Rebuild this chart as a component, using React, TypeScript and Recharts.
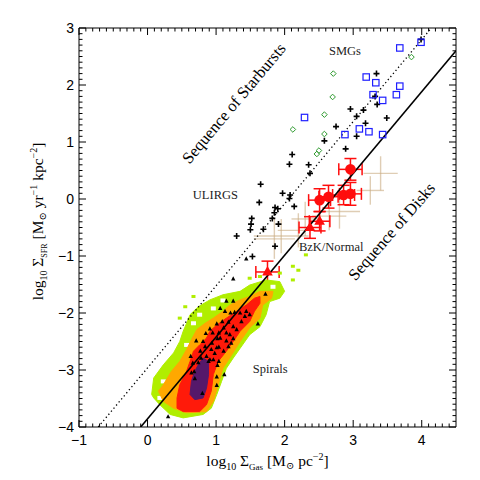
import React from 'react';
import { ComposedChart, Scatter, XAxis, YAxis, ErrorBar, ReferenceLine } from 'recharts';

const W = 480;
const H = 480;
const MARGIN = { top: 28, right: 24, left: 0, bottom: 0 };
const Y_AXIS_W = 79;
const X_AXIS_H = 53;
const PLOT_W = W - Y_AXIS_W - MARGIN.right;
const PLOT_H = H - MARGIN.top - X_AXIS_H;

const SERIF = '"Liberation Serif", "DejaVu Serif", serif';
const SANS = '"Liberation Sans", Arial, sans-serif';

// axes
const xMajor = [-1, 0, 1, 2, 3, 4];
const yMajor = [-4, -3, -2, -1, 0, 1, 2, 3];
const xTicks: number[] = [];
for (let i = -10; i <= 44; i++) xTicks.push(i / 10);
const yTicks: number[] = [];
for (let i = -40; i <= 30; i++) yTicks.push(i / 10);

// fitted sequences (log Σgas, log Σsfr)
const diskSeq = [[-0.1, -4], [4.5, 2.6]];
const starburstSeq = [[-0.72, -4], [4.14, 3]];

// spiral density map levels (outline polygons)
const greenZone = [
  [0.06, -3.43], [0.09, -3.14], [0.23, -2.91], [0.38, -2.7], [0.47, -2.5], [0.52, -2.32], [0.57, -2.18],
  [0.62, -2.03], [0.74, -1.89], [0.91, -1.77], [1.1, -1.68], [1.35, -1.62], [1.49, -1.51], [1.73, -1.42],
  [1.93, -1.45], [2.0, -1.62], [1.93, -1.74], [1.78, -1.8], [1.73, -2.03], [1.64, -2.24], [1.49, -2.38],
  [1.35, -2.62], [1.25, -2.79], [1.15, -2.97], [1.08, -3.2], [1.01, -3.43], [0.93, -3.67], [0.81, -3.78],
  [0.52, -3.84], [0.33, -3.78], [0.18, -3.61], [0.09, -3.49],
];
const greenSpecks = [
  [2.31, -0.98], [2.12, -1.18], [1.64, -1.36], [1.93, -1.3], [2.12, -1.42], [2.2, -1.25],
  [0.55, -1.89], [0.47, -2.09], [0.67, -1.71], [1.49, -1.39],
];
const greenHoles = [
  [0.23, -3.2], [0.38, -3.08], [0.57, -2.56], [0.76, -2.03], [0.96, -1.92], [0.67, -2.18], [1.44, -1.8],
  [1.83, -1.54], [0.18, -3.49], [1.1, -1.78],
];
const orangeZone = [
  [0.16, -3.37], [0.23, -3.26], [0.35, -3.02], [0.47, -2.85], [0.57, -2.64], [0.64, -2.47], [0.72, -2.29],
  [0.84, -2.18], [0.96, -2.09], [1.1, -1.97], [1.2, -1.86], [1.35, -1.77], [1.49, -1.71], [1.64, -1.62],
  [1.83, -1.62], [1.81, -1.74], [1.68, -1.86], [1.64, -2.09], [1.49, -2.26], [1.35, -2.5], [1.23, -2.73],
  [1.1, -2.97], [1.03, -3.26], [0.96, -3.55], [0.86, -3.73], [0.57, -3.75], [0.38, -3.67], [0.23, -3.55],
];
const redZone = [
  [0.43, -3.67], [0.43, -3.49], [0.47, -3.26], [0.57, -3.02], [0.62, -2.85], [0.67, -2.67], [0.76, -2.56],
  [0.86, -2.44], [0.91, -2.32], [1.01, -2.21], [1.15, -2.09], [1.3, -1.97], [1.44, -1.86], [1.56, -1.74],
  [1.64, -1.71], [1.64, -1.83], [1.56, -1.97], [1.49, -2.15], [1.35, -2.32], [1.25, -2.5], [1.15, -2.67],
  [1.03, -2.85], [0.96, -3.08], [0.93, -3.37], [0.86, -3.61], [0.76, -3.73], [0.52, -3.73],
];
const purpleZone = [
  [0.62, -3.43], [0.64, -3.2], [0.69, -3.02], [0.74, -2.91], [0.81, -2.79], [0.89, -2.85], [0.89, -3.08],
  [0.86, -3.32], [0.81, -3.49], [0.69, -3.52],
];

// individual galaxies
const spirals = [
  [1.25, -1.4], [1.72, -1.67], [1.44, -1.05], [1.15, -1.79], [1.25, -1.79], [1.06, -1.92], [1.13, -1.97],
  [1.21, -2.0], [1.27, -1.99], [1.35, -2.0], [1.44, -1.97], [1.49, -2.03], [1.42, -2.06], [1.09, -2.15],
  [1.18, -2.16], [1.37, -2.15], [1.61, -2.19], [1.01, -2.19], [1.11, -2.26], [1.25, -2.24], [1.3, -2.29],
  [0.91, -2.28], [1.04, -2.35], [0.85, -2.36], [0.95, -2.35], [1.15, -2.35], [1.2, -2.38], [1.25, -2.45],
  [1.02, -2.45], [1.06, -2.44], [1.15, -2.49], [0.81, -2.5], [0.71, -2.49], [0.94, -2.53], [1.22, -2.53],
  [1.18, -2.59], [0.84, -2.59], [1.04, -2.6], [1.01, -2.61], [0.93, -2.64], [0.77, -2.67], [1.11, -2.67],
  [0.98, -2.71], [0.86, -2.76], [0.63, -2.76], [0.78, -2.79], [0.91, -2.82], [0.96, -2.82], [0.89, -2.85],
  [1.04, -2.85], [0.74, -2.87], [0.66, -2.88], [1.02, -2.92], [0.68, -3.03], [0.64, -3.05], [1.12, -3.08],
  [1.01, -3.12], [0.69, -3.15], [1.01, -3.27], [0.8, -3.41], [0.3, -3.82],
];
const ulirgs = [
  [3.99, 2.8], [3.34, 2.2], [3.32, 1.8], [3.35, 1.66], [2.96, 1.58], [3.15, 1.56], [3.05, 1.45], [3.49, 1.42],
  [3.18, 1.33], [2.75, 1.27], [3.05, 1.1], [2.58, 1.02], [2.89, 0.88], [2.11, 0.78], [2.07, 0.61], [2.35, 0.6],
  [2.37, 0.45], [1.65, 0.26], [1.97, 0.1], [2.08, 0.07], [2.07, 0.01], [1.63, -0.06], [2.14, -0.13],
  [1.86, -0.15], [1.9, -0.17], [1.85, -0.24], [1.52, -0.34], [1.82, -0.34], [1.91, -0.44], [1.51, -0.44],
  [1.5, -0.54], [1.69, -0.53], [1.3, -0.65], [1.86, -0.83], [1.53, -1.01],
];
const smgs = [
  [3.68, 2.65], [3.99, 2.75], [3.19, 2.14], [3.33, 2.04], [3.68, 1.98], [3.29, 1.83], [3.43, 1.73],
  [3.63, 1.83], [2.29, 1.43], [3.09, 1.23], [3.23, 1.18], [2.88, 1.13], [3.43, 1.13],
];
const smgsDiamond = [
  [3.85, 2.49], [2.71, 2.2], [2.7, 1.79], [2.58, 1.48], [2.12, 1.22], [2.58, 1.14], [2.47, 0.79], [2.5, 0.85],
];
// BzK galaxies: x, y, xerr, yerr
const bzkCircles = [
  [2.96, 0.52, 0.17, 0.19], [2.51, -0.02, 0.16, 0.2], [2.64, 0.04, 0.14, 0.2], [2.86, 0.07, 0.16, 0.17],
  [2.96, 0.09, 0.16, 0.2],
];
const bzkTriangles = [
  [2.37, -0.5, 0.16, 0.19], [2.51, -0.39, 0.15, 0.17], [1.75, -1.28, 0.17, 0.19],
];
const normalErr = [
  [3.4, 0.45, 0.25, 0.3], [3.25, 0.15, 0.2, 0.25], [2.8, -0.22, 0.3, 0.3], [2.65, -0.3, 0.25, 0.25],
  [2.2, -0.55, 0.3, 0.3], [1.95, -0.65, 0.4, 0.3], [1.85, -0.7, 0.3, 0.35], [2.3, -0.35, 0.2, 0.3],
];

const annotations = [
  { x: 2.88, y: 2.6, text: 'SMGs', rotate: 0 },
  { x: 0.99, y: 0.07, text: 'ULIRGS', rotate: 0 },
  { x: 2.68, y: -0.85, text: 'BzK/Normal', rotate: 0 },
  { x: 1.79, y: -2.98, text: 'Spirals', rotate: 0 },
  { x: 1.26, y: 1.68, text: 'Sequence of Starbursts', rotate: -50 },
  { x: 3.56, y: -0.57, text: 'Sequence of Disks', rotate: -49 },
];

const toPts = (arr: number[][]) => arr.map(([x, y]) => ({ x, y }));
const toErr = (arr: number[][]) => arr.map(([x, y, ex, ey]) => ({ x, y, ex, ey }));

const fmt = (v: number) => (v < 0 ? `\u2212${Math.abs(v)}` : `${v}`);

const XTick = (props: any) => {
  const { x, y, payload } = props;
  const major = xMajor.includes(payload.value);
  const len = major ? 7 : 3.5;
  return (
    <g>
      <line x1={x} x2={x} y1={y} y2={y - len} stroke="#000" strokeWidth={1} />
      <line x1={x} x2={x} y1={y - PLOT_H} y2={y - PLOT_H + len} stroke="#000" strokeWidth={1} />
      {major && (
        <text x={x} y={y + 18} textAnchor="middle" fontFamily={SANS} fontSize={14} fill="#000">
          {fmt(payload.value)}
        </text>
      )}
    </g>
  );
};

const YTick = (props: any) => {
  const { x, y, payload } = props;
  const major = yMajor.includes(payload.value);
  const len = major ? 7 : 3.5;
  return (
    <g>
      <line x1={x} x2={x + len} y1={y} y2={y} stroke="#000" strokeWidth={1} />
      <line x1={x + PLOT_W} x2={x + PLOT_W - len} y1={y} y2={y} stroke="#000" strokeWidth={1} />
      {major && (
        <text x={x - 5} y={y + 5} textAnchor="end" fontFamily={SANS} fontSize={14} fill="#000">
          {fmt(payload.value)}
        </text>
      )}
    </g>
  );
};

const XTitle = (props: any) => {
  const vb = props.viewBox || { x: Y_AXIS_W, y: MARGIN.top + PLOT_H, width: PLOT_W };
  return (
    <text x={vb.x + vb.width / 2} y={vb.y + 39} textAnchor="middle" fontFamily={SERIF} fontSize={15.5} fill="#000">
      <tspan>log</tspan>
      <tspan fontSize={10} dy={4}>10</tspan>
      <tspan dy={-4}> Σ</tspan>
      <tspan fontSize={9} dy={4}>Gas</tspan>
      <tspan dy={-4}> [M</tspan>
      <tspan fontSize={10} dy={3}>⊙</tspan>
      <tspan dy={-3}> pc</tspan>
      <tspan fontSize={10} dy={-6}>{'\u22122'}</tspan>
      <tspan dy={6}>]</tspan>
    </text>
  );
};

const YTitle = (props: any) => {
  const vb = props.viewBox || { x: 0, y: MARGIN.top, height: PLOT_H };
  const cx = vb.x + 43;
  const cy = vb.y + vb.height / 2 - 6;
  return (
    <text x={cx} y={cy} transform={`rotate(-90 ${cx} ${cy})`} textAnchor="middle" fontFamily={SERIF} fontSize={15.5} fill="#000">
      <tspan>log</tspan>
      <tspan fontSize={10} dy={4}>10</tspan>
      <tspan dy={-4}> Σ</tspan>
      <tspan fontSize={8} dy={4}>SFR</tspan>
      <tspan dy={-4}>{'  [M'}</tspan>
      <tspan fontSize={10} dy={3}>⊙</tspan>
      <tspan dy={-3}> yr</tspan>
      <tspan fontSize={10} dy={-6}>{'\u22121'}</tspan>
      <tspan dy={6}> kpc</tspan>
      <tspan fontSize={10} dy={-6}>{'\u22122'}</tspan>
      <tspan dy={6}>]</tspan>
    </text>
  );
};

const noShape = () => <g />;

const fillPoly = (color: string) => (p: any) => (
  <polygon
    points={(p.points || []).map((q: any) => `${q.x},${q.y}`).join(' ')}
    fill={color}
    stroke={color}
    strokeWidth={1}
    strokeLinejoin="round"
  />
);

const Cross = (p: any) => (
  <path d={`M${p.cx - 3},${p.cy}h6M${p.cx},${p.cy - 3}v6`} stroke="#000" strokeWidth={1.6} />
);
const OpenSquare = (p: any) => (
  <rect x={p.cx - 3.2} y={p.cy - 3.2} width={6.4} height={6.4} fill="none" stroke="#1f1fff" strokeWidth={1.2} />
);
const OpenDiamond = (p: any) => (
  <path d={`M${p.cx},${p.cy - 2.8}L${p.cx + 2.8},${p.cy}L${p.cx},${p.cy + 2.8}L${p.cx - 2.8},${p.cy}Z`} fill="none" stroke="#2e9a2e" strokeWidth={1} />
);
const SmallTriangle = (p: any) => (
  <path d={`M${p.cx},${p.cy - 2.6}L${p.cx + 2.2},${p.cy + 1.6}L${p.cx - 2.2},${p.cy + 1.6}Z`} fill="#000" />
);
const RedCircle = (p: any) => <circle cx={p.cx} cy={p.cy} r={5.3} fill="#ff0d0d" />;
const RedTriangle = (p: any) => (
  <path d={`M${p.cx},${p.cy - 6}L${p.cx + 5.3},${p.cy + 3.5}L${p.cx - 5.3},${p.cy + 3.5}Z`} fill="#ff0d0d" />
);
const GreenSpeck = (p: any) => <rect x={p.cx - 2} y={p.cy - 1.5} width={4} height={3} fill="#b0ee00" />;
const WhiteHole = (p: any) => <rect x={p.cx - 2.5} y={p.cy - 2} width={5} height={4} fill="#fff" />;

const Annotation = (p: any) => {
  const a = p.payload;
  const big = a.rotate !== 0;
  return (
    <text
      x={p.cx}
      y={p.cy}
      transform={`rotate(${a.rotate} ${p.cx} ${p.cy})`}
      textAnchor="middle"
      dominantBaseline="central"
      fontFamily={SERIF}
      fontSize={big ? 16.5 : 12.5}
      fill={big ? '#000' : '#222'}
    >
      {a.text}
    </text>
  );
};

export default function App() {
  return (
    <div style={{ position: 'absolute', left: 0, top: 0, width: W, height: H, background: '#fff' }}>
      <ComposedChart width={W} height={H} margin={MARGIN}>
        <XAxis
          type="number"
          dataKey="x"
          domain={[-1, 4.5]}
          allowDataOverflow
          ticks={xTicks}
          interval={0}
          tickLine={false}
          tickSize={0}
          tickMargin={0}
          tick={<XTick />}
          height={X_AXIS_H}
          axisLine={{ stroke: '#000', strokeWidth: 1 }}
          label={<XTitle />}
        />
        <YAxis
          type="number"
          dataKey="y"
          domain={[-4, 3]}
          allowDataOverflow
          ticks={yTicks}
          interval={0}
          tickLine={false}
          tickSize={0}
          tickMargin={0}
          tick={<YTick />}
          width={Y_AXIS_W}
          axisLine={{ stroke: '#000', strokeWidth: 1 }}
          label={<YTitle />}
        />
        <ReferenceLine y={3} stroke="#000" strokeWidth={1} />
        <ReferenceLine x={4.5} stroke="#000" strokeWidth={1} />

        <Scatter data={toPts(greenZone)} shape={noShape} line={fillPoly('#b0ee00')} isAnimationActive={false} />
        <Scatter data={toPts(greenHoles)} shape={WhiteHole} isAnimationActive={false} />
        <Scatter data={toPts(greenSpecks)} shape={GreenSpeck} isAnimationActive={false} />
        <Scatter data={toPts(orangeZone)} shape={noShape} line={fillPoly('#ffa800')} isAnimationActive={false} />
        <Scatter data={toPts(redZone)} shape={noShape} line={fillPoly('#ff1a0a')} isAnimationActive={false} />
        <Scatter data={toPts(purpleZone)} shape={noShape} line={fillPoly('#55186a')} isAnimationActive={false} />

        <Scatter
          data={toPts(starburstSeq)}
          shape={noShape}
          line={{ stroke: '#000', strokeWidth: 1.3, strokeDasharray: '1.3 2.7' }}
          isAnimationActive={false}
        />
        <Scatter data={toPts(diskSeq)} shape={noShape} line={{ stroke: '#000', strokeWidth: 1.6 }} isAnimationActive={false} />

        <Scatter data={toErr(normalErr)} shape={noShape} isAnimationActive={false}>
          <ErrorBar dataKey="ex" direction="x" width={0} stroke="#c9ab82" strokeOpacity={0.6} strokeWidth={1.4} />
          <ErrorBar dataKey="ey" direction="y" width={0} stroke="#c9ab82" strokeOpacity={0.6} strokeWidth={1.4} />
        </Scatter>

        <Scatter data={toPts(spirals)} shape={SmallTriangle} isAnimationActive={false} />
        <Scatter data={toPts(ulirgs)} shape={Cross} isAnimationActive={false} />
        <Scatter data={toPts(smgs)} shape={OpenSquare} isAnimationActive={false} />
        <Scatter data={toPts(smgsDiamond)} shape={OpenDiamond} isAnimationActive={false} />

        <Scatter data={toErr(bzkCircles)} shape={RedCircle} isAnimationActive={false}>
          <ErrorBar dataKey="ex" direction="x" width={6} stroke="#ff0d0d" strokeWidth={1.5} />
          <ErrorBar dataKey="ey" direction="y" width={6} stroke="#ff0d0d" strokeWidth={1.5} />
        </Scatter>
        <Scatter data={toErr(bzkTriangles)} shape={RedTriangle} isAnimationActive={false}>
          <ErrorBar dataKey="ex" direction="x" width={6} stroke="#ff0d0d" strokeWidth={1.5} />
          <ErrorBar dataKey="ey" direction="y" width={6} stroke="#ff0d0d" strokeWidth={1.5} />
        </Scatter>

        <Scatter data={annotations} shape={Annotation} isAnimationActive={false} />
      </ComposedChart>
    </div>
  );
}
